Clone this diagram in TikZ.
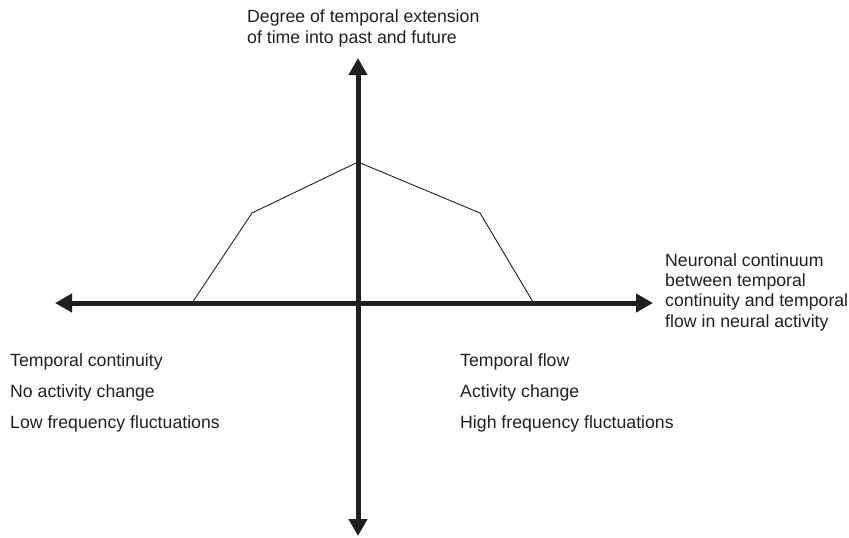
\documentclass[tikz,border=0pt]{standalone}
\usepackage{fontspec}
\setmainfont{Liberation Sans}
\usetikzlibrary{arrows.meta}
\definecolor{ink}{HTML}{231F20}
\begin{document}
\begin{tikzpicture}[x=1pt,y=-1pt,
  axis/.style={draw=ink,line width=5pt,-{Triangle[length=17pt,width=18pt]}},
  profile/.style={draw=ink,line width=0.9pt,line join=miter},
  lbl/.style={inner sep=0pt,anchor=base west,text=ink,align=left,
    font=\fontsize{17.7}{20.2}\selectfont}]
\useasboundingbox (0,0) rectangle (849,538);
% axes
\coordinate (O) at (358,303);
\coordinate (top) at (358,58);
\coordinate (bottom) at (358,536);
\coordinate (left) at (55,303);
\coordinate (right) at (653,303);
\draw[axis] (O) -- (top);
\draw[axis] (O) -- (bottom);
\draw[axis] (O) -- (left);
\draw[axis] (O) -- (right);
% extension profile
\coordinate (p1) at (192,303);
\coordinate (p2) at (252,213);
\coordinate (p3) at (358,162);
\coordinate (p4) at (480,213);
\coordinate (p5) at (533,302);
\draw[profile] (p1) -- (p2) -- (p3) -- (p4) -- (p5);
% labels (base anchor sits on the last line)
\node[lbl] (ylab) at (247,43) {Degree of temporal extension\\of time into past and future};
\node[lbl] (xlab) at (665,327) {Neuronal continuum\\between temporal\\continuity and temporal\\flow in neural activity};
\node[lbl] (l1) at (10,366) {Temporal continuity};
\node[lbl] (l2) at (10,397) {No activity change};
\node[lbl] (l3) at (10,428) {Low frequency fluctuations};
\node[lbl] (r1) at (460,366) {Temporal flow};
\node[lbl] (r2) at (460,397) {Activity change};
\node[lbl] (r3) at (460,428) {High frequency fluctuations};
\end{tikzpicture}
\end{document}
